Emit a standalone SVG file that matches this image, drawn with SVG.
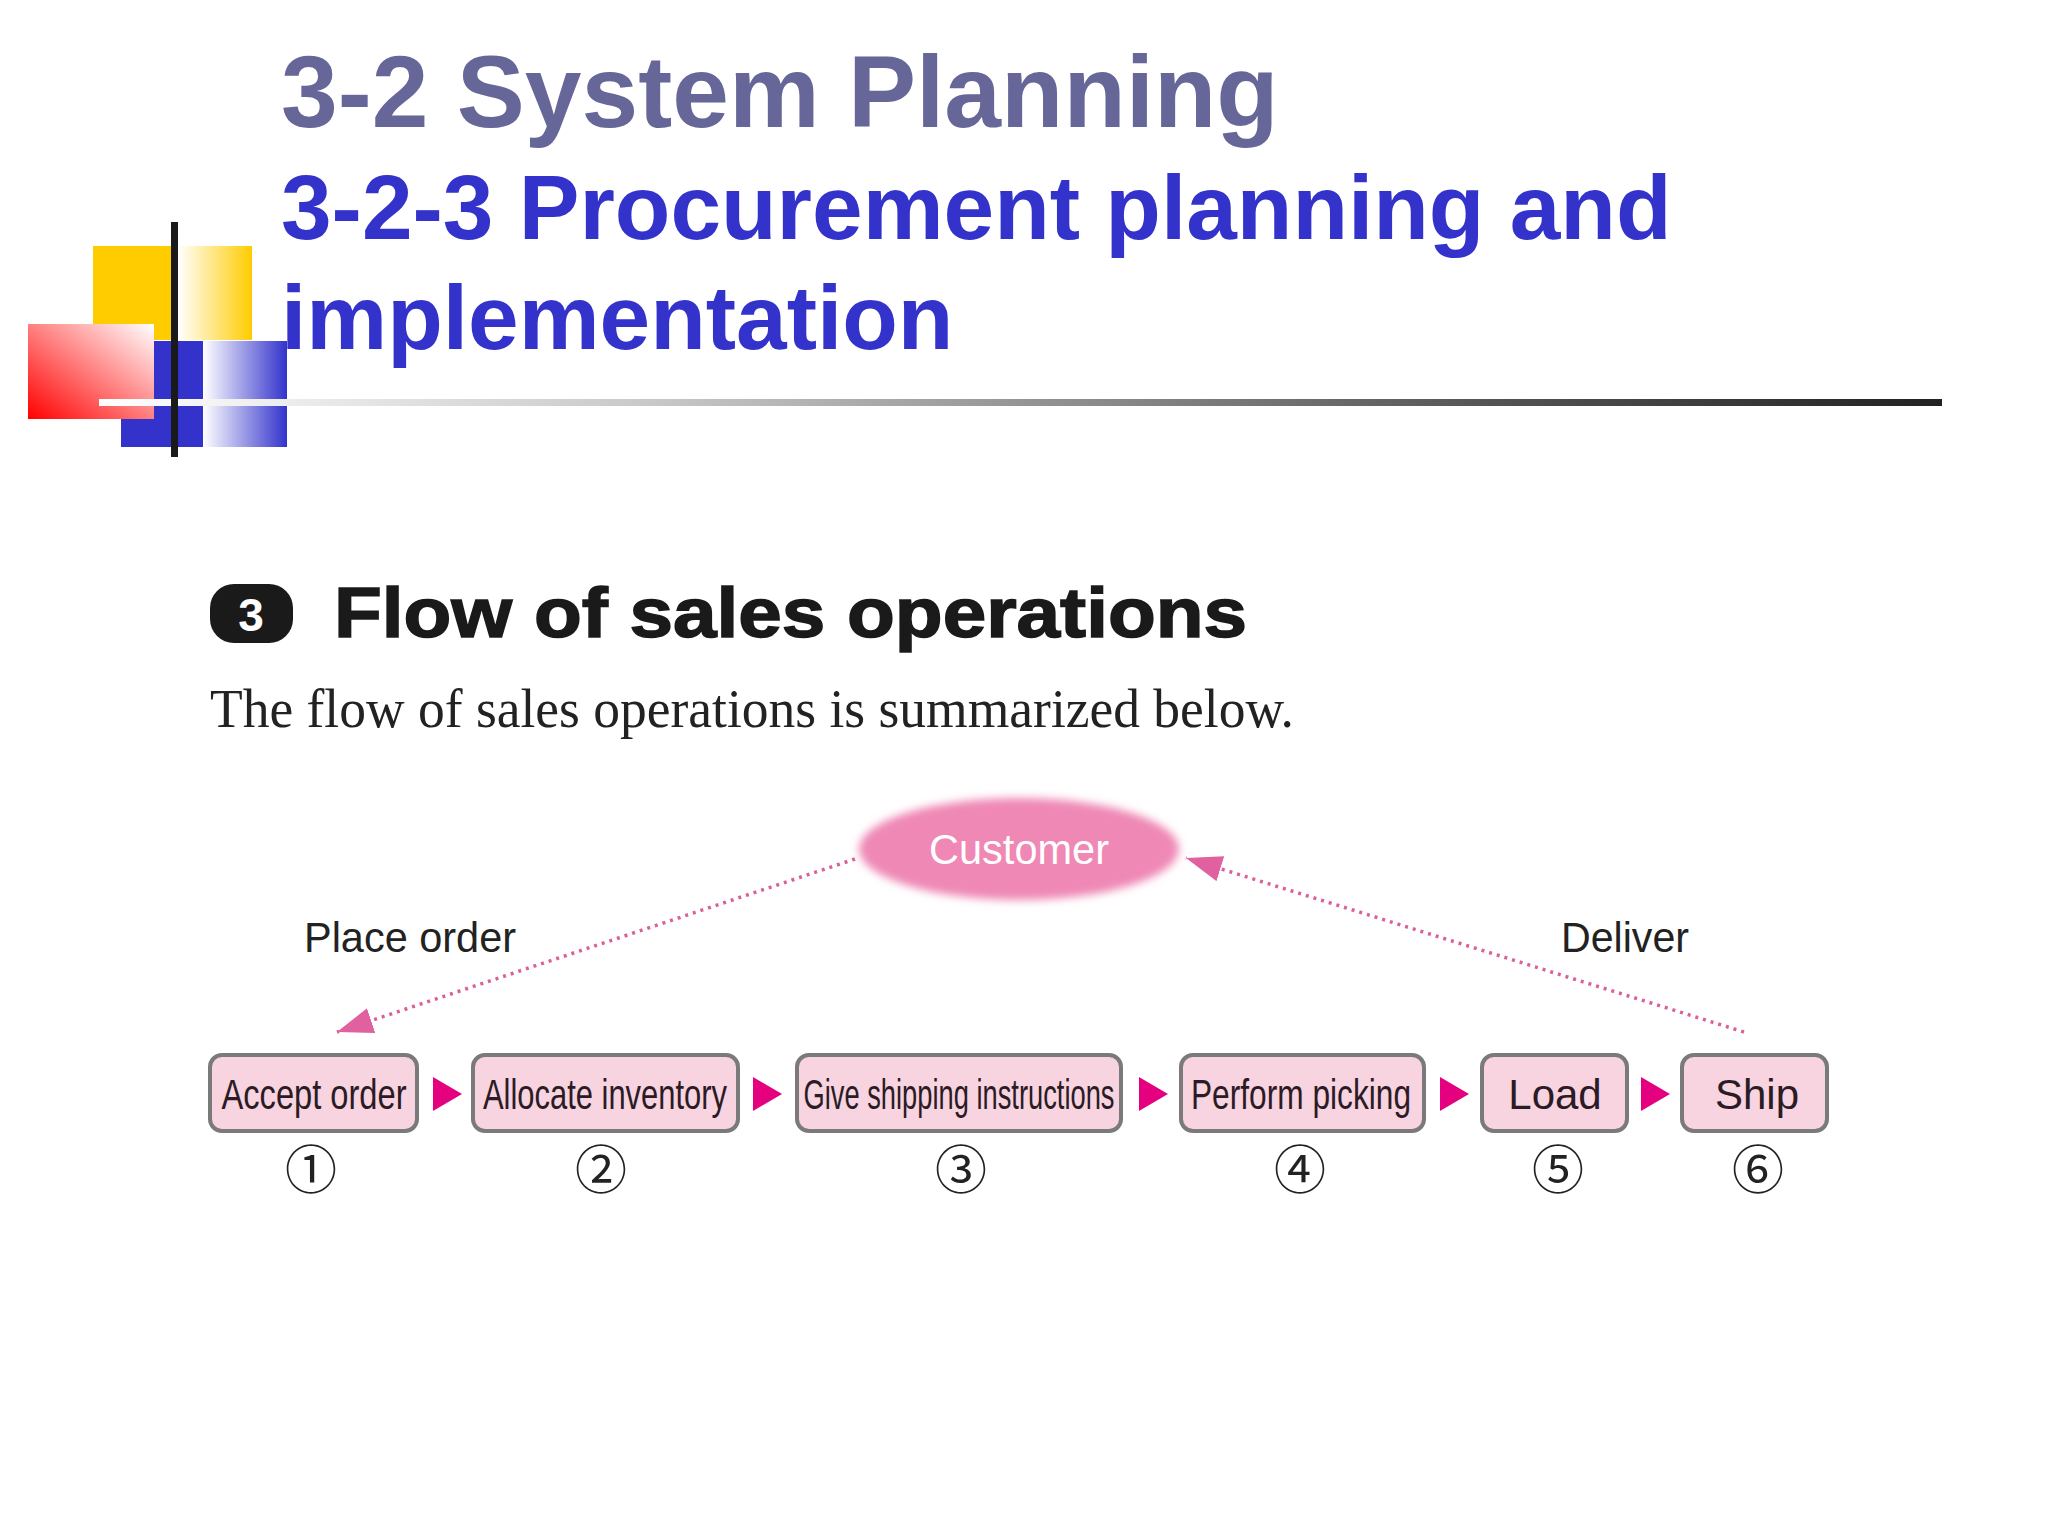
<svg xmlns="http://www.w3.org/2000/svg" width="2048" height="1536" viewBox="0 0 2048 1536">
<style>
.t1{font-family:"Liberation Sans",Arial,sans-serif;font-weight:bold;font-size:102px;fill:#666699}
.t2{font-family:"Liberation Sans",Arial,sans-serif;font-weight:bold;font-size:91px;fill:#3333CC}
.head{font-family:"Liberation Sans",Arial,sans-serif;font-weight:bold;font-size:70px;fill:#1a1a1a;stroke:#1a1a1a;stroke-width:1.5}
.sub{font-family:"Liberation Serif","Times New Roman",serif;font-size:55px;fill:#222}
.lbl{font-family:"Liberation Sans",Arial,sans-serif;font-size:42px;fill:#222}
.box rect{fill:#F8D3E0;stroke:#7a7a7a;stroke-width:4}
.box text{font-family:"Liberation Sans",Arial,sans-serif;font-size:42px;fill:#2b1b25;text-anchor:middle}
.box text.num{font-family:"Noto Sans CJK JP","DejaVu Sans",sans-serif;font-size:52px;fill:#222;text-anchor:middle}
.step{fill:#E4007F}
.dot{fill:none;stroke:#D9609A;stroke-width:3.5;stroke-dasharray:3 5}
</style>
<defs>
<linearGradient id="gy" x1="0" y1="0" x2="1" y2="0"><stop offset="0" stop-color="#fff"/><stop offset="1" stop-color="#FFCC00"/></linearGradient>
<linearGradient id="gb" x1="0" y1="0" x2="1" y2="0"><stop offset="0" stop-color="#fff"/><stop offset="1" stop-color="#3333CC"/></linearGradient>
<linearGradient id="gr" x1="0" y1="1" x2="1" y2="0"><stop offset="0" stop-color="#FF0000"/><stop offset="1" stop-color="#fff"/></linearGradient>
<linearGradient id="gl" gradientUnits="userSpaceOnUse" x1="99" y1="0" x2="1942" y2="0"><stop offset="0" stop-color="#fff"/><stop offset="0.3" stop-color="#c8c8c8"/><stop offset="0.75" stop-color="#555"/><stop offset="1" stop-color="#222"/></linearGradient>
<filter id="soft" x="-20%" y="-40%" width="140%" height="180%"><feGaussianBlur stdDeviation="4.5"/></filter>
<marker id="ah" markerUnits="userSpaceOnUse" markerWidth="40" markerHeight="30" refX="36" refY="13" orient="auto"><path d="M0,0 L36,13 L0,26 Z" fill="#E060A0"/></marker>
</defs>
<rect width="2048" height="1536" fill="#fff"/>
<g id="logo">
<rect x="93" y="246" width="85" height="94" fill="#FFCC00"/>
<rect x="178" y="246" width="74" height="94" fill="url(#gy)"/>
<rect x="121" y="341" width="82" height="106" fill="#3333CC"/>
<rect x="203" y="341" width="84" height="106" fill="url(#gb)"/>
<rect x="28" y="324" width="126" height="95" fill="url(#gr)"/>
<rect x="99" y="399" width="1843" height="7" fill="url(#gl)"/>
<rect x="171" y="222" width="7" height="235" fill="#1a1a1a"/>
</g>
<g id="titles">
<text class="t1" x="281" y="127">3-2 System Planning</text>
<text class="t2" x="281" y="239">3-2-3 Procurement planning and</text>
<text class="t2" x="281" y="349">implementation</text>
</g>
<g id="heading">
<rect x="210" y="584" width="83" height="59" rx="24" fill="#1a1a1a"/>
<text x="251" y="631" text-anchor="middle" style="font-family:'Liberation Sans',Arial,sans-serif;font-weight:bold;font-size:46px;fill:#fff">3</text>
<text class="head" x="334" y="637" textLength="913" lengthAdjust="spacingAndGlyphs">Flow of sales operations</text>
<text class="sub" x="210" y="727" textLength="1084" lengthAdjust="spacingAndGlyphs">The flow of sales operations is summarized below.</text>
</g>
<g id="connectors">
<path class="dot" d="M855,859 L337,1032" marker-end="url(#ah)"/>
<path class="dot" d="M1744,1032 L1186,858" marker-end="url(#ah)"/>
<polygon class="step" points="433,1077 462,1094 433,1111"/>
<polygon class="step" points="753,1077 782,1094 753,1111"/>
<polygon class="step" points="1139,1077 1168,1094 1139,1111"/>
<polygon class="step" points="1440,1077 1469,1094 1440,1111"/>
<polygon class="step" points="1641,1077 1670,1094 1641,1111"/>
</g>
<g id="customer">
<ellipse cx="1019" cy="849" rx="160" ry="51" fill="#EF88B5" filter="url(#soft)"/>
<text x="1019" y="864" text-anchor="middle" textLength="180" lengthAdjust="spacingAndGlyphs" style="font-family:'Liberation Sans',Arial,sans-serif;font-size:42px;fill:#fff">Customer</text>
</g>
<g id="labels">
<text class="lbl" x="304" y="952" textLength="212" lengthAdjust="spacingAndGlyphs">Place order</text>
<text class="lbl" x="1561" y="952" textLength="128" lengthAdjust="spacingAndGlyphs">Deliver</text>
</g>
<g id="n1" class="box"><rect x="210" y="1055" width="207" height="76" rx="12"/><text x="314" y="1109" textLength="185" lengthAdjust="spacingAndGlyphs">Accept order</text><text class="num" x="311" y="1189">①</text></g>
<g id="n2" class="box"><rect x="473" y="1055" width="265" height="76" rx="12"/><text x="605" y="1109" textLength="244" lengthAdjust="spacingAndGlyphs">Allocate inventory</text><text class="num" x="601" y="1189">②</text></g>
<g id="n3" class="box"><rect x="797" y="1055" width="324" height="76" rx="12"/><text transform="translate(959,1109) scale(0.65,1)" x="0" y="0">Give shipping instructions</text><text class="num" x="961" y="1189">③</text></g>
<g id="n4" class="box"><rect x="1181" y="1055" width="243" height="76" rx="12"/><text x="1301" y="1109" textLength="220" lengthAdjust="spacingAndGlyphs">Perform picking</text><text class="num" x="1300" y="1189">④</text></g>
<g id="n5" class="box"><rect x="1482" y="1055" width="145" height="76" rx="12"/><text x="1555" y="1109">Load</text><text class="num" x="1558" y="1189">⑤</text></g>
<g id="n6" class="box"><rect x="1682" y="1055" width="145" height="76" rx="12"/><text x="1757" y="1109">Ship</text><text class="num" x="1758" y="1189">⑥</text></g>
</svg>
